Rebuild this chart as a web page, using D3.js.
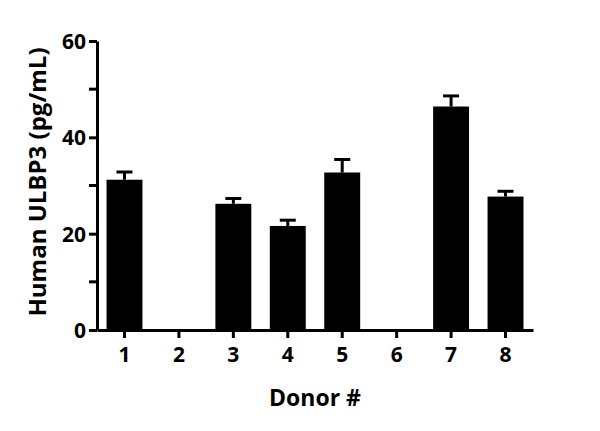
<!DOCTYPE html>
<html>
<head>
<meta charset="utf-8">
<script src="https://cdn.jsdelivr.net/npm/d3@7"></script>
<style>
	body { margin: 0; background: #fff; }
	svg text { font-family: "Open Sans", sans-serif; font-weight: 700; fill: #000; }
	.axis path, .axis line { stroke: #000; stroke-width: 3; }
</style>
</head>
<body>
<div class="chart"></div>
<script>

const donors = ["1", "2", "3", "4", "5", "6", "7", "8"];
const means = [31.2, 0, 26.2, 21.6, 32.7, 0, 46.4, 27.7];
const errors = [1.6, 0, 1.1, 1.2, 2.7, 0, 2.2, 1.1];
const yTicks = [0, 20, 40, 60];
const yMinorTicks = [10, 30, 50];

const data = donors.map((d, i) => ({ donor: d, mean: means[i], err: errors[i] }));

const width = 600;
const height = 431;

const scaleX = d3.scaleBand()
	.domain(donors)
	.range([97, 533])
	.paddingInner(0.34)
	.paddingOuter(0.175);

const scaleY = d3.scaleLinear().domain([0, 60]).range([330, 41]);

const svg = d3.select(".chart")
	.append("svg")
		.attr("width", width)
		.attr("height", height);

// bars
svg.append("g")
	.selectAll("rect")
		.data(data.filter((d) => d.mean > 0)).enter()
	.append("rect")
		.attr("x", (d) => scaleX(d.donor))
		.attr("y", (d) => scaleY(d.mean))
		.attr("width", scaleX.bandwidth())
		.attr("height", (d) => scaleY(0) - scaleY(d.mean))
		.attr("fill", "#000");

// error bars (upper only)
const errs = svg.append("g")
	.selectAll(".err")
		.data(data.filter((d) => d.mean > 0)).enter()
	.append("g")
		.attr("class", "err")
		.attr("transform", (d) => `translate(${scaleX(d.donor) + scaleX.bandwidth() / 2},0)`);

errs.append("line")
	.attr("y1", (d) => scaleY(d.mean))
	.attr("y2", (d) => scaleY(d.mean + d.err))
	.attr("stroke", "#000")
	.attr("stroke-width", 3);

errs.append("line")
	.attr("x1", -8)
	.attr("x2", 8)
	.attr("y1", (d) => scaleY(d.mean + d.err))
	.attr("y2", (d) => scaleY(d.mean + d.err))
	.attr("stroke", "#000")
	.attr("stroke-width", 3);

// y axis
const yAxis = svg.append("g")
	.attr("class", "axis")
	.attr("transform", "translate(97,0)")
	.call(d3.axisLeft(scaleY).tickValues(yTicks).tickSize(8).tickSizeOuter(0).tickPadding(3));

yAxis.selectAll(".minor")
	.data(yMinorTicks).enter()
	.append("line")
		.attr("class", "minor")
		.attr("x2", -8)
		.attr("y1", (d) => scaleY(d))
		.attr("y2", (d) => scaleY(d));

yAxis.selectAll("text").style("font-size", "21px").attr("dy", "0.36em");

// x axis
const xAxis = svg.append("g")
	.attr("class", "axis")
	.attr("transform", "translate(0,330)")
	.call(d3.axisBottom(scaleX).tickSize(8).tickSizeOuter(0).tickPadding(9));

xAxis.selectAll("text").style("font-size", "21px");

svg.selectAll(".axis text").attr("fill", "#000");

// titles
svg.append("text")
	.attr("x", 315)
	.attr("y", 406)
	.attr("text-anchor", "middle")
	.style("font-size", "23px")
	.text("Donor #");

svg.append("text")
	.attr("transform", "translate(46,182) rotate(-90)")
	.attr("text-anchor", "middle")
	.style("font-size", "24px")
	.text("Human ULBP3 (pg/mL)");

</script>
</body>
</html>
